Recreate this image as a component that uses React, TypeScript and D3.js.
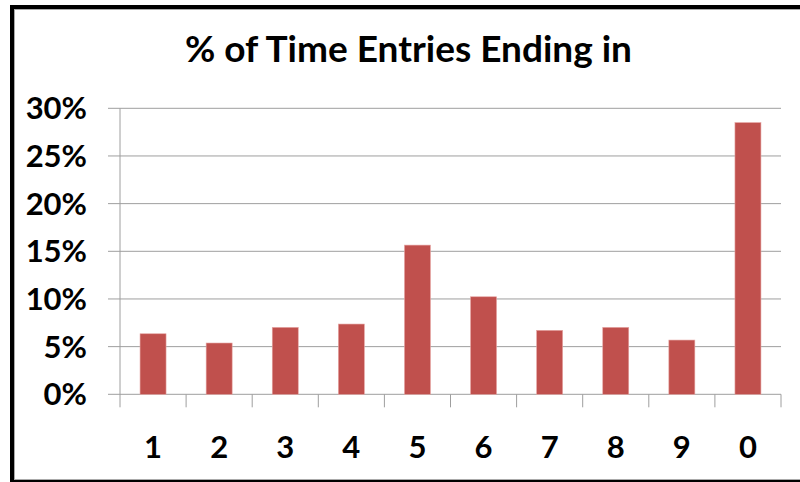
import React from "react";
import * as d3 from "d3";

// Final digit of each time entry and its share of all entries
const digits = ["1", "2", "3", "4", "5", "6", "7", "8", "9", "0"];
const shares = [0.0635, 0.0538, 0.0702, 0.0737, 0.1565, 0.1023, 0.0671, 0.0702, 0.0569, 0.285];
const yTicks = [0, 0.05, 0.1, 0.15, 0.2, 0.25, 0.3];
const title = "% of Time Entries Ending in";

const W = 800;
const H = 482;
const plot = { left: 120, right: 781, top: 108.3, bottom: 394.3 };
const FONT = "Lato, 'Open Sans', sans-serif";

export default function App() {
  const x = d3.scaleBand<string>().domain(digits).range([plot.left, plot.right]).paddingInner(0).paddingOuter(0);
  const y = d3.scaleLinear().domain([0, 0.3]).range([plot.bottom, plot.top]);
  const barW = 26;
  const fmt = d3.format(".0%");

  return (
    <svg
      width={W}
      height={H}
      style={{ position: "absolute", left: 0, top: 0, background: "#fff" }}
      fontFamily={FONT}
    >
      {/* frame */}
      <rect x={0} y={0} width={W} height={H} fill="#fff" />
      <line x1={10} y1={7} x2={W} y2={7} stroke="#000" strokeWidth={4} />
      <line x1={10} y1={9.5} x2={W} y2={9.5} stroke="#aaa" strokeWidth={1} />
      <line x1={12} y1={5} x2={12} y2={H} stroke="#000" strokeWidth={4} />
      <line x1={14.5} y1={10} x2={14.5} y2={479} stroke="#aaa" strokeWidth={1} />
      <line x1={10} y1={481} x2={W} y2={481} stroke="#000" strokeWidth={2} />
      <line x1={14} y1={479.5} x2={W} y2={479.5} stroke="#aaa" strokeWidth={1} />

      <text x={408.5} y={62} textAnchor="middle" fontSize={37} fontWeight={700} fill="#000">
        {title}
      </text>

      {/* horizontal gridlines and y labels */}
      {yTicks.map((t) => (
        <g key={t}>
          <line x1={108} x2={plot.right} y1={y(t)} y2={y(t)} stroke="#9e9e9e" strokeWidth={1} />
          <text x={87} y={y(t) + 11} textAnchor="end" fontSize={31} fontWeight={700} fill="#000">
            {fmt(t)}
          </text>
        </g>
      ))}

      {/* vertical axis line */}
      <line x1={plot.left} x2={plot.left} y1={plot.top} y2={plot.bottom + 13} stroke="#9e9e9e" strokeWidth={1} />

      {/* category tick marks */}
      {digits.map((d) => (
        <line
          key={"t" + d}
          x1={(x(d) as number) + x.bandwidth()}
          x2={(x(d) as number) + x.bandwidth()}
          y1={plot.bottom}
          y2={plot.bottom + 13}
          stroke="#9e9e9e"
          strokeWidth={1}
        />
      ))}

      {/* bars */}
      {digits.map((d, i) => {
        const cx = (x(d) as number) + x.bandwidth() / 2;
        return (
          <rect
            key={"b" + d}
            x={cx - barW / 2}
            y={y(shares[i])}
            width={barW}
            height={plot.bottom - y(shares[i])}
            fill="#c0504d"
            stroke="#e6a5a3"
            strokeWidth={0.6}
          />
        );
      })}

      {/* x labels */}
      {digits.map((d) => (
        <text
          key={"l" + d}
          x={(x(d) as number) + x.bandwidth() / 2}
          y={458}
          textAnchor="middle"
          fontSize={31}
          fontWeight={700}
          fill="#000"
        >
          {d}
        </text>
      ))}
    </svg>
  );
}
